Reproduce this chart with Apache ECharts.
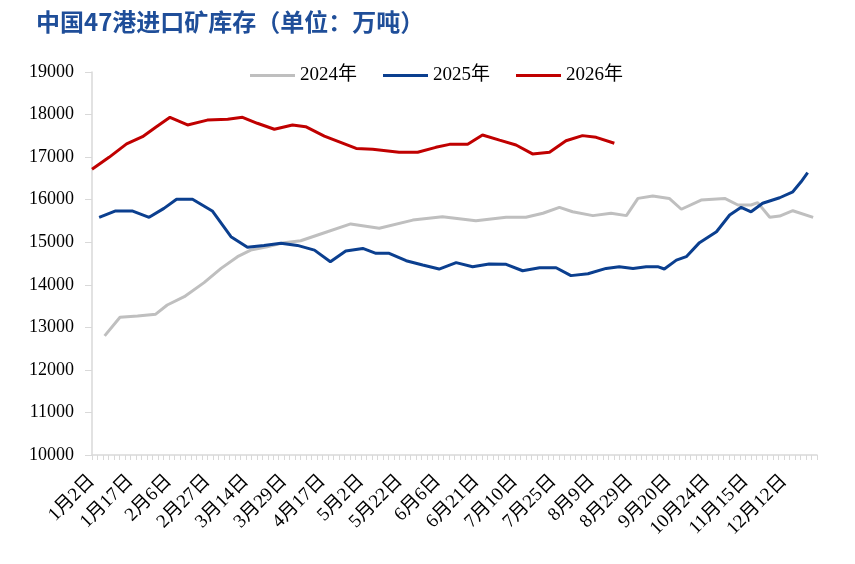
<!DOCTYPE html>
<html>
<head>
<meta charset="utf-8">
<script src="https://cdn.jsdelivr.net/npm/echarts@6/dist/echarts.min.js"></script>
<style>
  html, body { margin: 0; padding: 0; background: #fff; }
  #chart { width: 855px; height: 564px; }
</style>
</head>
<body>
<div id="chart"></div>
<script>
/* 横轴：每7个日期格显示一个标签 */
const tickLabels = ['1月2日', '1月17日', '2月6日', '2月27日', '3月14日', '3月29日', '4月17日',
    '5月2日', '5月22日', '6月6日', '6月21日', '7月10日', '7月25日', '8月9日', '8月29日',
    '9月20日', '10月24日', '11月15日', '12月12日'];
const slotCount = 132;
const slotsPerLabel = 7;

/* 各年份数据点在日期轴上的位置（格序号）与库存（万吨） */
const pos2024 = [2.3, 5.1, 8.3, 11.6, 13.7, 16.8, 20.4, 23.5, 26.5, 28.9, 31.9, 35.0, 38.0, 41.1,
    47.1, 52.3, 58.4, 63.8, 69.9, 75.4, 79.0, 82.1, 85.1, 87.5, 91.2, 94.5, 97.3, 99.4, 102.1,
    105.1, 107.3, 110.9, 115.2, 117.6, 120.0, 121.2, 123.4, 125.2, 127.6, 131.3];
const val2024 = [12800, 13235, 13265, 13310, 13525, 13720, 14050, 14385, 14660, 14815, 14895, 14990, 15035, 15170,
    15430, 15330, 15520, 15600, 15505, 15585, 15585, 15680, 15820, 15715, 15625, 15680, 15625, 16030, 16085,
    16030, 15775, 15990, 16030, 15875, 15875, 15930, 15585, 15615, 15740, 15585];

const pos2025 = [1.3, 4.3, 7.3, 10.4, 13.1, 15.4, 18.3, 21.9, 25.3, 28.3, 31.3, 34.4, 37.4, 40.5, 43.4,
    46.2, 49.3, 51.7, 54.1, 57.2, 60.2, 63.2, 66.3, 69.3, 72.3, 75.4, 78.4, 81.5, 84.5, 87.2,
    90.3, 93.6, 96.0, 98.5, 100.9, 103.0, 104.2, 106.4, 108.2, 110.6, 113.7, 116.1, 118.2, 120.0,
    122.1, 125.2, 127.6, 129.1, 130.3];
const val2025 = [15585, 15735, 15735, 15585, 15795, 16010, 16010, 15735, 15130, 14880, 14925, 14975, 14925, 14815, 14540,
    14795, 14855, 14740, 14740, 14565, 14465, 14370, 14520, 14425, 14490, 14480, 14330, 14400, 14400, 14215,
    14260, 14385, 14425, 14385, 14425, 14425, 14370, 14580, 14660, 14990, 15245, 15640, 15820, 15715,
    15915, 16045, 16185, 16420, 16635];

const pos2026 = [0, 3.1, 6.3, 9.2, 11.6, 14.2, 17.4, 21.0, 24.7, 27.4, 30.1, 33.2, 36.5, 38.9, 42.3,
    48.1, 51.1, 55.9, 59.3, 62.6, 65.1, 68.4, 71.1, 74.2, 77.2, 80.2, 83.3, 86.3, 89.3, 91.8, 95.1];
const val2026 = [16715, 16995, 17310, 17480, 17700, 17935, 17755, 17870, 17890, 17935, 17795, 17655, 17755, 17715, 17495,
    17205, 17185, 17115, 17115, 17230, 17300, 17300, 17520, 17400, 17285, 17075, 17115, 17385, 17505, 17465, 17325];

const yMin = 10000;
const yMax = 19000;
const yStep = 1000;

const serifFont = '"Liberation Serif", "Times New Roman", "Noto Sans CJK SC", serif';

function toPoints (pos, val) {
    return pos.map((p, i) => [p, val[i]]);
}

const chart = echarts.init(document.getElementById('chart'), null, { renderer: 'canvas' });
const option = {
    animation: false,
    backgroundColor: '#ffffff',
    title: {
        text: '中国47港进口矿库存（单位：万吨）',
        left: 31,
        top: 5,
        textStyle: {
            fontFamily: '"Noto Sans CJK SC", sans-serif',
            fontSize: 24,
            fontWeight: 'bold',
            color: '#1F4E99'
        }
    },
    legend: {
        left: 250,
        top: 66,
        padding: 0,
        itemWidth: 45,
        itemHeight: 3,
        itemGap: 26,
        icon: 'rect',
        textStyle: {
            fontFamily: serifFont,
            fontSize: 19,
            color: '#000'
        },
        data: ['2024年', '2025年', '2026年']
    },
    grid: {
        left: 92,
        right: 38,
        top: 72,
        bottom: 109
    },
    xAxis: {
        type: 'value',
        min: 0,
        max: slotCount,
        interval: slotsPerLabel,
        axisLine: { show: true, lineStyle: { color: '#d9d9d9', width: 1.5 } },
        axisTick: { show: true, length: 5, lineStyle: { color: '#d9d9d9' } },
        minorTick: { show: true, splitNumber: slotsPerLabel, length: 5, lineStyle: { color: '#d9d9d9' } },
        splitLine: { show: false },
        axisLabel: {
            rotate: 45,
            margin: 23,
            fontFamily: serifFont,
            fontSize: 19,
            color: '#000',
            formatter: (v) => {
                const k = v / slotsPerLabel;
                return Number.isInteger(k) && tickLabels[k] ? tickLabels[k] : '';
            }
        }
    },
    yAxis: {
        type: 'value',
        min: yMin,
        max: yMax,
        interval: yStep,
        axisLine: { show: true, lineStyle: { color: '#d9d9d9', width: 1.5 } },
        axisTick: { show: true, length: 7, lineStyle: { color: '#d9d9d9' } },
        splitLine: { show: false },
        axisLabel: {
            margin: 18,
            fontFamily: serifFont,
            fontSize: 18,
            color: '#000',
            formatter: (v) => String(v)
        }
    },
    series: [
        {
            name: '2024年',
            type: 'line',
            data: toPoints(pos2024, val2024),
            symbol: 'none',
            lineStyle: { width: 3, color: '#BFBFBF' },
            itemStyle: { color: '#BFBFBF' }
        },
        {
            name: '2025年',
            type: 'line',
            data: toPoints(pos2025, val2025),
            symbol: 'none',
            lineStyle: { width: 3, color: '#0B3F8F' },
            itemStyle: { color: '#0B3F8F' }
        },
        {
            name: '2026年',
            type: 'line',
            data: toPoints(pos2026, val2026),
            symbol: 'none',
            lineStyle: { width: 3, color: '#C00000' },
            itemStyle: { color: '#C00000' }
        }
    ]
};
chart.setOption(option);
</script>
</body>
</html>
